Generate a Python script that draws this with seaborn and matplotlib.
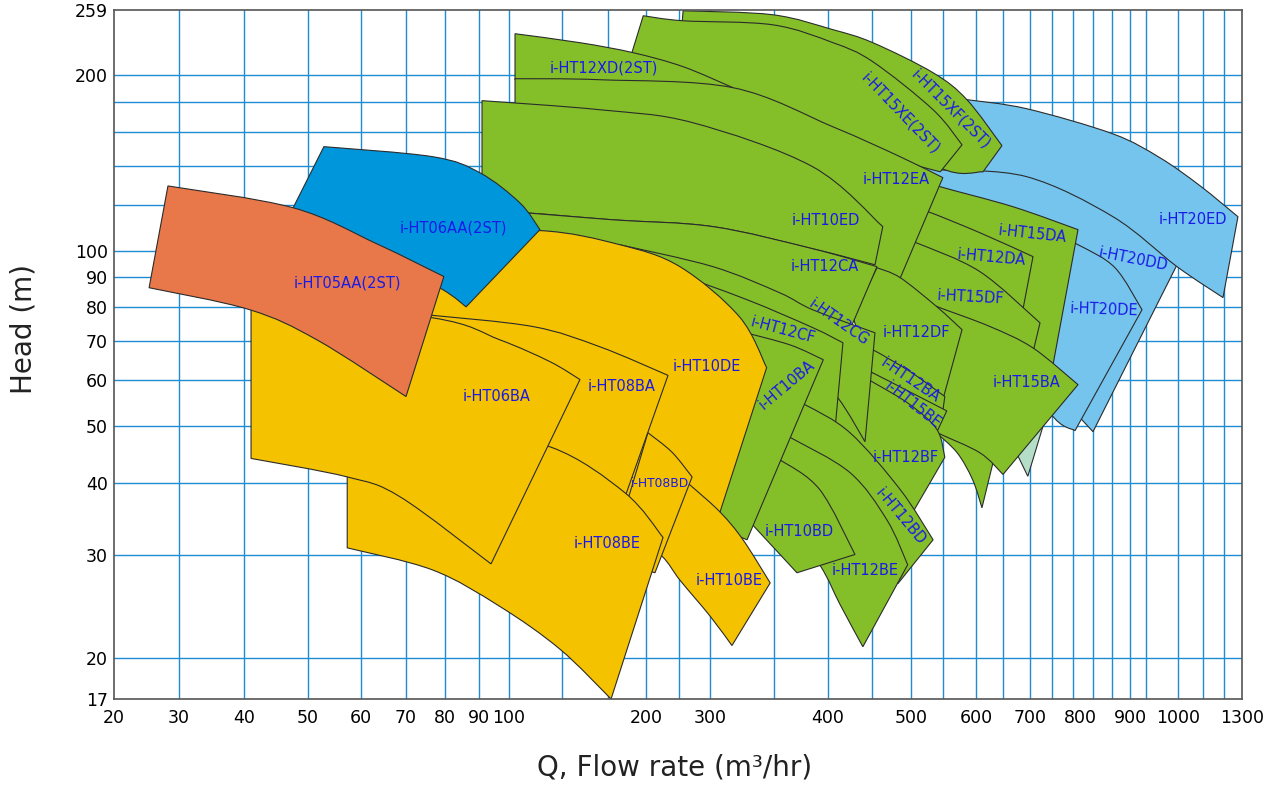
import numpy as np
import matplotlib
matplotlib.use("Agg")
import matplotlib.pyplot as plt
import seaborn as sns
from matplotlib.path import Path
from matplotlib.patches import PathPatch
from matplotlib.ticker import FixedLocator, FixedFormatter, NullLocator

# ---------------- axis definition (tick values) ----------------
X_TICKS = [20, 30, 40, 50, 60, 70, 80, 90, 100, 200, 300, 400, 500, 600, 700, 800, 900, 1000, 1300]
Y_TICKS = [17, 20, 30, 40, 50, 60, 70, 80, 90, 100, 200, 259]
GRID_FLOW = [30, 40, 50, 60, 70, 80, 90, 100, 139, 172, 200, 252, 300, 354, 400, 453, 500, 549,
             600, 650, 700, 744, 786, 826, 864, 900, 933, 1000, 1117, 1216]
GRID_HEAD = [20, 30, 40, 50, 60, 70, 80, 90, 100, 120, 140, 160, 180, 200]

# ---------------- regions: (flow m3/h, head m) ----------------
MINT_TOP = [(663, 47.4), (730, 51.3)]
MINT_BOT = [(696, 41.0)]

HT20DD_TOP = [(514, 143.3), (694, 137.7), (840, 121.3), (998, 94.6)]
HT20DD_BOT = [(607, 82.4), (760, 56.5), (826, 48.9)]
HT20ED_TOP = [(586, 181.7), (694, 175.3), (866, 158.7), (962.5, 144.4), (1103, 129.3), (1281, 114.4)]
HT20ED_BOT = [(545, 137.7), (694, 134.0), (866, 114.4), (998, 93.9), (1211, 83.1)]
HT20DE_TOP = [(760, 105.2), (800, 102.0), (870, 93.5), (925, 79.2)]
HT20DE_BOT = [(644, 73.2), (740, 52.7), (790, 49.1)]

HT15XF_TOP = [(258, 258.2), (353, 254.2), (406, 239.6), (454, 227.6), (534, 202.1), (586, 181.7), (648, 151.5)]
HT15XF_BOT = [(253, 221.4), (426.5, 174.6), (545, 138.8), (613, 136.6)]
HT15XE_TOP = [(198, 253.2), (258, 248.2), (353, 244.3), (406, 227.6), (454, 211.1), (534, 174.6), (578.5, 152.0)]
HT15XE_BOT = [(182.5, 192.7), (376, 167.9), (487, 143.3), (545, 136.6)]
HT12XD_TOP = [(104.4, 235.8), (151.8, 227.6), (190.5, 218.8), (258, 207.0), (319.5, 190.5)]
HT12XD_BOT = [(104.4, 196.6), (321, 183.2)]
HT15DA_TOP = [(521.5, 131.9), (545, 128.8), (668.5, 119.0), (796, 108.7)]
HT15DA_BOT = [(462.7, 82.4), (644, 67.6), (746, 63.7)]
HT12DA_TOP = [(506, 117.6), (526, 116.7), (607, 107.4), (706, 97.7)]
HT12DA_BOT = [(462.7, 82.4), (685, 77.6)]
HT15DF_TOP = [(493, 104.4), (509, 103.1), (607, 92.1), (720, 75.2)]
HT15DF_BOT = [(462.7, 79.2), (700, 63.7)]
TIP_TOP = [(521.5, 51.3), (635, 44.6)]
TIP_BOT = [(537, 48.9), (571, 45.0), (595, 40.4), (611, 36.2)]
HT15BA_TOP = [(514, 82.4), (545, 79.8), (626, 74.1), (706, 68.1), (796, 58.9)]
HT15BA_BOT = [(475, 53.3), (537, 48.9), (607, 45.0), (650, 41.3)]
HT12EA_TOP = [(104.4, 197.4), (166.4, 196.6), (319.5, 190.5), (406, 163.2), (487, 145.0), (549, 133.5)]
HT12EA_BOT = [(104.4, 174.6), (284, 134.9), (450.6, 90.9), (481, 85.7)]
HT10ED_TOP = [(91, 181.0), (166.4, 174.6), (273, 165.9), (387, 139.4), (466, 110.0)]
HT10ED_BOT = [(91, 116.7), (111.7, 116.2), (175.9, 113.0), (302.5, 110.0), (387, 100.8), (456.6, 94.6)]
HT12DF_TOP = [(459, 93.5), (487, 89.9), (540, 80.1), (578.5, 73.2)]
HT12DF_BOT = [(430, 77.0), (450.6, 65.0), (493, 58.9), (549, 55.5)]
HT12CA_TOP = [(97, 116.7), (111.7, 116.2), (175.9, 113.0), (302.5, 110.0), (387, 100.8), (459, 93.9)]
HT12CA_BOT = [(108, 96.5), (284, 87.4), (376, 79.2), (426.5, 73.2)]
HT12BA_TOP = [(444.6, 67.9), (454, 67.6), (499, 62.0), (552, 56.2)]
HT12BA_BOT = [(444.6, 63.0), (493, 56.5), (549, 53.1)]
HT15BE_TOP = [(438.6, 63.0), (453, 61.8), (499, 57.2), (555, 53.1)]
HT15BE_BOT = [(438.6, 58.9), (499, 53.3), (540, 48.9)]
HT12BF_TOP = [(408.4, 64.5), (453, 59.6), (499, 54.4), (540, 49.3), (552, 44.2)]
HT12BF_BOT = [(368, 50.3), (450.6, 41.8), (503, 35.6)]
HT12CG_TOP = [(181, 102.4), (302.5, 93.9), (359, 84.7), (387, 79.2), (456.6, 72.3)]
HT12CG_BOT = [(253, 82.4), (376, 66.3), (412, 55.9), (444.6, 47.0)]
HT12CF_TOP = [(229.7, 92.8), (331.4, 82.4), (387, 73.8), (418, 69.5)]
HT12CF_BOT = [(284, 51.3), (408.4, 49.3)]
HT12BD_TOP = [(359, 56.5), (380.5, 54.4), (426.5, 48.7), (487, 38.9), (534, 31.9)]
HT12BD_BOT = [(355, 45.5), (426.5, 40.4), (469, 33.2), (484, 26.8)]
HT12BE_TOP = [(355, 49.3), (368, 47.8), (426.5, 41.6), (471, 34.5), (496, 28.9)]
HT12BE_BOT = [(355, 37.4), (393, 28.9), (414.5, 24.7), (442, 20.9)]
HT10BD_TOP = [(346.6, 45.1), (359, 43.8), (393, 38.9), (432.5, 30.1)]
HT10BD_BOT = [(334, 34.2), (373.7, 28.0)]
HT10BA_TOP = [(327, 72.6), (368, 68.9), (396, 65.0)]
HT10BA_BOT = [(284, 34.5), (331.4, 31.9)]

HT10DE_TOP = [(76.2, 106.5), (122.6, 108.3), (181, 102.4), (253, 93.9), (325, 77.0), (348, 63.0)]
HT10DE_BOT = [(76.2, 73.2), (166.4, 34.5), (284.4, 31.9), (308.5, 35.6)]
HT08BA_TOP = [(75.6, 77.6), (117.5, 74.1), (166.4, 68.4), (234.4, 61.1)]
HT08BA_BOT = [(73.6, 55.5), (177.4, 33.8)]
HT10BE_TOP = [(206, 45.5), (269, 39.6), (308.5, 35.6), (328, 31.9), (351, 26.9)]
HT10BE_BOT = [(188, 33.2), (225, 29.9), (253, 27.2), (300, 23.6), (318.6, 21.0)]
HT08BD_TOP = [(203, 48.7), (240.6, 45.1), (272, 40.9)]
HT08BD_BOT = [(173.7, 29.5), (214, 28.0)]
HT08BE_TOP = [(57.4, 50.3), (81.5, 49.3), (130.7, 46.0), (184.7, 38.4), (226.6, 32.2)]
HT08BE_BOT = [(57.4, 30.9), (76.9, 28.3), (97, 24.5), (137.2, 20.7), (174.5, 17.0)]
HT06BA_TOP = [(41.1, 82.4), (76.9, 76.7), (97, 70.3), (129.9, 64.5), (151.8, 60.1)]
HT06BA_BOT = [(41.1, 44.0), (57.4, 40.9), (68.7, 37.8), (94, 29.0)]
HT06AA_TOP = [(53.0, 150.9), (76.9, 145.0), (90.3, 136.1), (108.0, 120.8), (122.6, 108.7)]
HT06AA_BOT = [(47.2, 115.7), (65.3, 97.3), (79.5, 85.7), (86.2, 80.1)]
HT05AA_TOP = [(28.3, 129.2), (47.7, 118.5), (63.6, 102.7), (79.7, 90.3)]
HT05AA_BOT = [(25.4, 86.4), (40.9, 79.2), (51.7, 70.3), (70, 56.2)]

# ---------------- label names ----------------
NAMES = ["i-HT05AA(2ST)", "i-HT06AA(2ST)", "i-HT06BA", "i-HT08BA", "i-HT10DE", "i-HT08BD",
         "i-HT08BE", "i-HT10BE", "i-HT12XD(2ST)", "i-HT15XE(2ST)", "i-HT15XF(2ST)", "i-HT12EA",
         "i-HT10ED", "i-HT12CA", "i-HT12CG", "i-HT12CF", "i-HT10BA", "i-HT12DF", "i-HT12BA",
         "i-HT15BE", "i-HT12BF", "i-HT12BD", "i-HT10BD", "i-HT12BE", "i-HT15DA", "i-HT12DA",
         "i-HT15DF", "i-HT15BA", "i-HT20ED", "i-HT20DD", "i-HT20DE"]

# ---------------- styles / layout ----------------
ORANGE, BLUE, YELLOW, GREEN, LBLUE, MINT = "#E8784A", "#0096DC", "#F5C200", "#84BF29", "#74C4EE", "#B4DEC8"
GRID_C = "#1E8CD2"
TEXT_C = "#1A1AE8"
# label anchor (flow, head) and rotation
LABEL_POS = {
    "i-HT05AA(2ST)": (57.4, 88.1, 0), "i-HT06AA(2ST)": (82.6, 109.6, 0), "i-HT06BA": (95.7, 56.2, 0),
    "i-HT08BA": (182.5, 58.4, 0), "i-HT10DE": (295, 63.3, 0), "i-HT08BD": (222, 39.9, 0),
    "i-HT08BE": (171.5, 31.4, 0), "i-HT10BE": (316, 27.2, 0), "i-HT12XD(2ST)": (169.3, 206.1, 0),
    "i-HT15XE(2ST)": (487, 171.9, -46), "i-HT15XF(2ST)": (561.5, 174.6, -45), "i-HT12EA": (482, 132.4, 0),
    "i-HT10ED": (398, 112.6, 0), "i-HT12CA": (397.5, 93.9, 0), "i-HT12CG": (413, 75.5, -35),
    "i-HT12CF": (362, 72.9, -15), "i-HT10BA": (365, 58.9, 40), "i-HT12DF": (509, 72.3, 0),
    "i-HT12BA": (499, 59.9, -34), "i-HT15BE": (503, 54.4, -38), "i-HT12BF": (493, 44.2, 0),
    "i-HT12BD": (487, 34.9, -50), "i-HT10BD": (376, 32.9, 0), "i-HT12BE": (444.6, 28.2, 0),
    "i-HT15DA": (704, 107.0, -6), "i-HT12DA": (628, 97.3, -5), "i-HT15DF": (591, 83.1, -3),
    "i-HT15BA": (694, 59.4, 0), "i-HT20ED": (1070, 113.0, 0), "i-HT20DD": (906, 96.5, -11),
    "i-HT20DE": (848, 79.2, -2),
}
# axis scale: screen position of each x tick value on the original chart
AX_FLOW = np.array(X_TICKS, float)
AX_POS = np.array([114, 179, 244, 308, 361, 406, 445, 479, 509, 646, 710, 828, 911, 976,
                   1030, 1080, 1130, 1178, 1242], float)

# draw order: back to front
REGIONS = [
    (MINT, MINT_TOP, MINT_BOT),
    (LBLUE, HT20DD_TOP, HT20DD_BOT), (LBLUE, HT20ED_TOP, HT20ED_BOT), (LBLUE, HT20DE_TOP, HT20DE_BOT),
    (GREEN, HT15XF_TOP, HT15XF_BOT), (GREEN, HT15XE_TOP, HT15XE_BOT), (GREEN, HT12XD_TOP, HT12XD_BOT),
    (GREEN, HT15DA_TOP, HT15DA_BOT), (GREEN, HT12DA_TOP, HT12DA_BOT), (GREEN, HT15DF_TOP, HT15DF_BOT),
    (GREEN, TIP_TOP, TIP_BOT), (GREEN, HT15BA_TOP, HT15BA_BOT), (GREEN, HT12EA_TOP, HT12EA_BOT),
    (GREEN, HT10ED_TOP, HT10ED_BOT), (GREEN, HT12DF_TOP, HT12DF_BOT), (GREEN, HT12CA_TOP, HT12CA_BOT),
    (GREEN, HT12BA_TOP, HT12BA_BOT), (GREEN, HT15BE_TOP, HT15BE_BOT), (GREEN, HT12BF_TOP, HT12BF_BOT),
    (GREEN, HT12CG_TOP, HT12CG_BOT), (GREEN, HT12CF_TOP, HT12CF_BOT), (GREEN, HT12BD_TOP, HT12BD_BOT),
    (GREEN, HT12BE_TOP, HT12BE_BOT), (GREEN, HT10BD_TOP, HT10BD_BOT), (GREEN, HT10BA_TOP, HT10BA_BOT),
    (YELLOW, HT10DE_TOP, HT10DE_BOT), (YELLOW, HT08BA_TOP, HT08BA_BOT), (YELLOW, HT10BE_TOP, HT10BE_BOT),
    (YELLOW, HT08BD_TOP, HT08BD_BOT), (YELLOW, HT08BE_TOP, HT08BE_BOT), (YELLOW, HT06BA_TOP, HT06BA_BOT),
    (BLUE, HT06AA_TOP, HT06AA_BOT), (ORANGE, HT05AA_TOP, HT05AA_BOT),
]


def _extrap(v, xs, ys):
    v = np.asarray(v, float)
    out = np.interp(v, xs, ys)
    lo_s = (ys[1] - ys[0]) / (xs[1] - xs[0])
    hi_s = (ys[-1] - ys[-2]) / (xs[-1] - xs[-2])
    out = np.where(v < xs[0], ys[0] + (v - xs[0]) * lo_s, out)
    out = np.where(v > xs[-1], ys[-1] + (v - xs[-1]) * hi_s, out)
    return out


def flow_fwd(q):
    return _extrap(q, AX_FLOW, AX_POS)


def flow_inv(p):
    return _extrap(p, AX_POS, AX_FLOW)


def smooth(pts):
    verts, codes = [], []
    n = len(pts)
    for i in range(n - 1):
        p0 = pts[i - 1] if i > 0 else pts[i]
        p1, p2 = pts[i], pts[i + 1]
        p3 = pts[i + 2] if i + 2 < n else pts[i + 1]
        verts += [p1 + (p2 - p0) / 6.0, p2 - (p3 - p1) / 6.0, p2]
        codes += [Path.CURVE4] * 3
    return verts, codes


def region_path(ax, top, bottom):
    T = ax.transData.transform(np.asarray(top, float))
    B = ax.transData.transform(np.asarray(bottom, float))[::-1]
    verts, codes = [T[0]], [Path.MOVETO]
    v, c = smooth(T); verts += v; codes += c
    verts.append(B[0]); codes.append(Path.LINETO)
    v, c = smooth(B); verts += v; codes += c
    verts.append(T[0]); codes.append(Path.CLOSEPOLY)
    data = ax.transData.inverted().transform(np.array(verts))
    return Path(data, codes)


sns.set_theme(style="white")
plt.rcParams['font.family'] = ['DejaVu Sans']

fig = plt.figure(figsize=(12.77, 7.87), dpi=100)
fig.patch.set_facecolor("white")
ax = fig.add_axes([114 / 1277, 88 / 787, 1128 / 1277, 689 / 787])
ax.set_facecolor("white")
ax.set_xscale('function', functions=(flow_fwd, flow_inv))
ax.set_yscale('log')
ax.set_xlim(20, 1300)
ax.set_ylim(17, 259)

for q in GRID_FLOW:
    ax.axvline(q, color=GRID_C, lw=1.0, zorder=0.5)
for h in GRID_HEAD:
    ax.axhline(h, color=GRID_C, lw=1.0, zorder=0.5)

ax.xaxis.set_major_locator(FixedLocator(X_TICKS))
ax.xaxis.set_major_formatter(FixedFormatter([str(v) for v in X_TICKS]))
ax.xaxis.set_minor_locator(NullLocator())
ax.yaxis.set_major_locator(FixedLocator(Y_TICKS))
ax.yaxis.set_major_formatter(FixedFormatter([str(v) for v in Y_TICKS]))
ax.yaxis.set_minor_locator(NullLocator())
ax.tick_params(axis='both', which='both', length=0, labelsize=12.5, labelcolor='black')
ax.tick_params(axis='x', pad=7.5)
ax.tick_params(axis='y', pad=4.3)
ax.grid(False)

for i, (col, top, bot) in enumerate(REGIONS):
    p = region_path(ax, top, bot)
    ax.add_patch(PathPatch(p, facecolor=col, edgecolor="#2b2b2b", lw=0.8,
                           zorder=2 + i * 0.001, joinstyle='miter'))

for name in NAMES:
    fx, hy, rot = LABEL_POS[name]
    fs = 8.8 if name == "i-HT08BD" else 10.5
    ax.text(fx, hy, name, color=TEXT_C, fontsize=fs, rotation=rot, rotation_mode='anchor',
            ha='center', va='center', zorder=3)

for s in ax.spines.values():
    s.set_visible(True)
    s.set_color("#555555")
    s.set_linewidth(1.2)

ax.set_xlabel("Q, Flow rate (m³/hr)", fontsize=20, color="#222222")
ax.xaxis.set_label_coords(0.497, -0.079)
ax.set_ylabel("Head (m)", fontsize=20, color="#222222")
ax.yaxis.set_label_coords(-0.068, 0.537)

fig.savefig("out.png", dpi=100, facecolor="white")
